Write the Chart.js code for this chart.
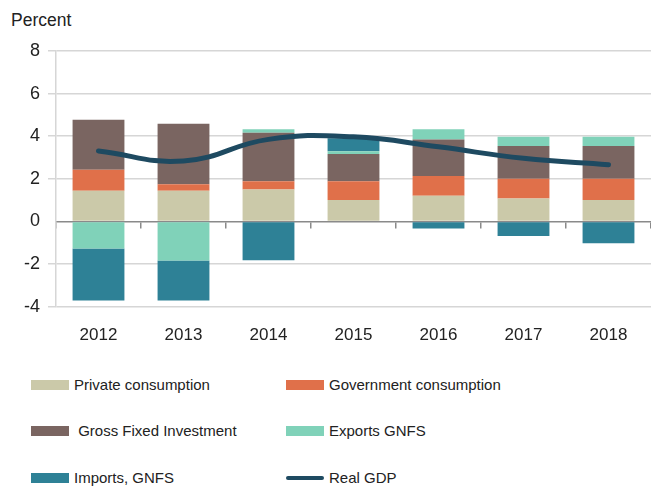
<!DOCTYPE html>
<html>
<head>
<meta charset="utf-8">
<script src="https://cdn.jsdelivr.net/npm/chart.js@4.4.1/dist/chart.umd.min.js"></script>
<style>
  html, body { margin: 0; padding: 0; background: #fff; }
  #wrap { position: relative; width: 651px; height: 487px; font-family: "Liberation Sans", Arial, sans-serif; color: #222; }
  #chartBox { position: absolute; left: 0; top: 0; width: 651px; height: 357px; }
  #unit { position: absolute; left: 11px; top: 10px; font-size: 17.5px; }
  .lg { position: absolute; font-size: 15px; line-height: 18px; white-space: pre; }
  .sw { position: absolute; }
</style>
</head>
<body>
<div id="wrap">
  <div id="unit">Percent</div>
  <div id="chartBox"><canvas id="c" width="651" height="357"></canvas></div>
  <div id="legend"></div>
</div>
<script>
const categories = ["2012", "2013", "2014", "2015", "2016", "2017", "2018"];
const privateConsumption = [1.44, 1.44, 1.50, 1.01, 1.20, 1.08, 1.01];
const governmentConsumption = [0.98, 0.31, 0.38, 0.87, 0.93, 0.92, 0.99];
const grossFixedInvestment = [2.35, 2.83, 2.28, 1.29, 1.72, 1.54, 1.54];
const exportsGNFS = [-1.27, -1.83, 0.17, 0.12, 0.48, 0.43, 0.43];
const importsGNFS = [-2.44, -1.88, -1.82, 0.61, -0.33, -0.69, -1.02];
const realGDP = [3.31, 2.84, 3.85, 3.97, 3.50, 2.96, 2.66];
const yTicks = [8, 6, 4, 2, 0, -2, -4];

const seriesNames = ["Private consumption", "Government consumption", " Gross Fixed Investment", "Exports GNFS", "Imports, GNFS", "Real GDP"];
const seriesColors = ["#cbc9a9", "#e0704a", "#7a6561", "#80d2b9", "#2e8196", "#1e4a61"];

const barSeries = [privateConsumption, governmentConsumption, grossFixedInvestment, exportsGNFS, importsGNFS];
const datasets = [{
  type: 'line',
  label: seriesNames[5],
  data: realGDP,
  borderColor: seriesColors[5],
  backgroundColor: seriesColors[5],
  borderWidth: 5,
  pointRadius: 0,
  tension: 0.45,
  fill: false,
  order: 0,
  borderCapStyle: 'round'
}];
barSeries.forEach((d, i) => {
  datasets.push({
    type: 'bar',
    label: seriesNames[i],
    data: d,
    backgroundColor: seriesColors[i],
    borderWidth: 0,
    stack: 's',
    order: 1,
    barPercentage: 0.61,
    categoryPercentage: 1.0
  });
});

const FONT = '"Liberation Sans", Arial, sans-serif';

new Chart(document.getElementById('c'), {
  type: 'bar',
  data: { labels: categories, datasets: datasets },
  options: {
    responsive: false,
    animation: false,
    layout: { padding: { top: 51, right: 0, left: 0, bottom: 0 } },
    plugins: { legend: { display: false }, tooltip: { enabled: false } },
    scales: {
      x: {
        type: 'category',
        stacked: true,
        offset: true,
        grid: { display: false },
        border: { display: false },
        ticks: { color: '#222', font: { family: FONT, size: 17 }, padding: 11, maxRotation: 0 }
      },
      x0: {
        type: 'category',
        axis: 'x',
        labels: categories,
        position: { y: 0 },
        offset: true,
        grid: { display: true, offset: true, drawOnChartArea: false, drawTicks: true, tickLength: 6, color: '#8a8a8a', lineWidth: 1.5 },
        border: { display: true, color: '#8a8a8a', width: 1.5 },
        ticks: { display: false },
        afterFit: (s) => { s.height = 0; }
      },
      y: {
        stacked: true,
        min: -4,
        max: 8,
        afterBuildTicks: (s) => { s.ticks = yTicks.map(v => ({ value: v })); },
        afterFit: (s) => { s.width = 56; },
        grid: { color: (ctx) => ctx.tick && ctx.tick.value === 0 ? 'rgba(0,0,0,0)' : '#d6d6d6', lineWidth: 1.5, tickLength: 8 },
        border: { display: true, color: '#d6d6d6', width: 1.5 },
        ticks: { color: '#222', font: { family: FONT, size: 18 }, padding: 8 }
      }
    }
  }
});

// HTML legend built from series names/colours
const legendPos = [[0, 0], [1, 0], [0, 1], [1, 1], [0, 2], [1, 2]];
const colX = [31, 286];
const rowY = [385, 431, 478];
const lg = document.getElementById('legend');
seriesNames.forEach((name, i) => {
  const [c, r] = legendPos[i];
  const sw = document.createElement('div');
  sw.className = 'sw';
  sw.style.left = colX[c] + 'px';
  sw.style.width = '38px';
  if (i === 5) {
    sw.style.top = (rowY[r] - 2) + 'px';
    sw.style.height = '4px';
    sw.style.borderRadius = '2px';
  } else {
    sw.style.top = (rowY[r] - 5) + 'px';
    sw.style.height = '10px';
  }
  sw.style.background = seriesColors[i];
  lg.appendChild(sw);
  const t = document.createElement('div');
  t.className = 'lg';
  t.textContent = name;
  t.style.left = (colX[c] + 43) + 'px';
  t.style.top = (rowY[r] - 9) + 'px';
  lg.appendChild(t);
});
</script>
</body>
</html>
